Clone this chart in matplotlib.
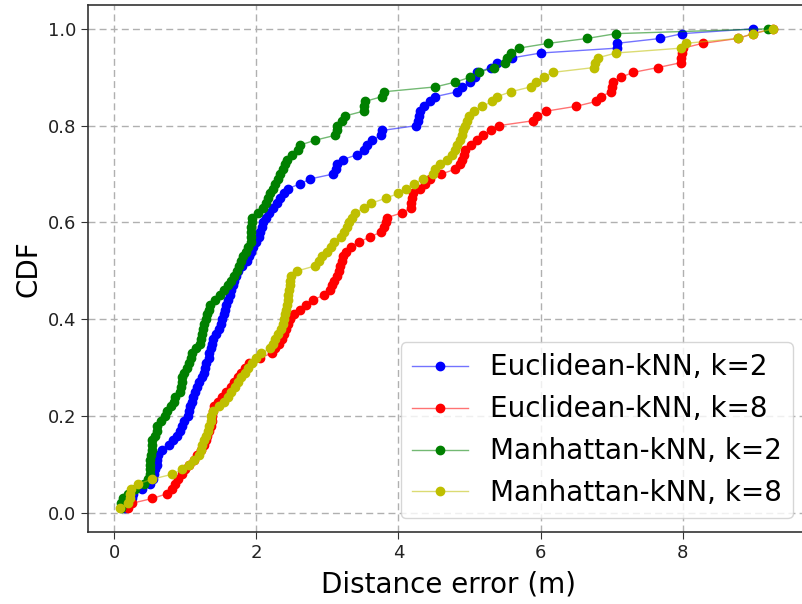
import numpy as np
import matplotlib
matplotlib.use('Agg')
import matplotlib.pyplot as plt

# sorted distance errors (m), one value per test point, 100 per method
euclid_k2 = [0.15, 0.20, 0.25, 0.27, 0.40, 0.51, 0.55, 0.56, 0.58, 0.60,
             0.61, 0.62, 0.68, 0.78, 0.83, 0.88, 0.93, 0.96, 0.99, 1.04,
             1.05, 1.07, 1.09, 1.11, 1.14, 1.17, 1.20, 1.24, 1.26, 1.28,
             1.30, 1.33, 1.34, 1.36, 1.38, 1.39, 1.43, 1.47, 1.50, 1.52,
             1.54, 1.56, 1.58, 1.60, 1.63, 1.65, 1.67, 1.69, 1.72, 1.75,
             1.80, 1.87, 1.90, 1.93, 1.96, 2.00, 2.04, 2.06, 2.08, 2.10,
             2.14, 2.18, 2.24, 2.29, 2.34, 2.39, 2.45, 2.62, 2.76, 3.08,
             3.12, 3.14, 3.22, 3.42, 3.51, 3.56, 3.63, 3.75, 3.77, 4.25,
             4.28, 4.29, 4.31, 4.36, 4.45, 4.52, 4.83, 4.90, 5.01, 5.08,
             5.11, 5.30, 5.39, 5.60, 6.00, 7.07, 7.07, 7.68, 7.99, 8.99]

euclid_k8 = [0.20, 0.25, 0.54, 0.75, 0.82, 0.86, 0.90, 0.95, 1.00, 1.05,
             1.12, 1.17, 1.22, 1.26, 1.29, 1.31, 1.34, 1.37, 1.38, 1.38,
             1.39, 1.40, 1.46, 1.52, 1.58, 1.65, 1.69, 1.74, 1.79, 1.84,
             1.90, 2.05, 2.22, 2.27, 2.32, 2.36, 2.39, 2.42, 2.44, 2.47,
             2.53, 2.62, 2.70, 2.80, 2.95, 3.04, 3.07, 3.10, 3.14, 3.16,
             3.18, 3.20, 3.22, 3.26, 3.33, 3.45, 3.60, 3.75, 3.80, 3.82,
             3.84, 4.05, 4.17, 4.18, 4.19, 4.20, 4.30, 4.38, 4.45, 4.60,
             4.80, 4.86, 4.90, 4.92, 4.94, 5.02, 5.10, 5.19, 5.30, 5.41,
             5.89, 5.95, 6.08, 6.50, 6.78, 6.85, 6.99, 7.01, 7.02, 7.13,
             7.30, 7.65, 7.97, 7.98, 7.99, 8.00, 8.28, 8.77, 8.99, 9.27]

manhat_k2 = [0.10, 0.10, 0.12, 0.20, 0.30, 0.42, 0.48, 0.50, 0.50, 0.51,
             0.51, 0.52, 0.53, 0.54, 0.54, 0.57, 0.60, 0.60, 0.66, 0.72,
             0.75, 0.80, 0.84, 0.86, 0.93, 0.94, 0.95, 0.96, 0.99, 1.02,
             1.05, 1.08, 1.10, 1.15, 1.21, 1.23, 1.24, 1.25, 1.26, 1.29,
             1.31, 1.33, 1.35, 1.42, 1.49, 1.55, 1.60, 1.65, 1.69, 1.73,
             1.76, 1.79, 1.82, 1.86, 1.89, 1.92, 1.92, 1.93, 1.93, 1.94,
             1.94, 2.02, 2.10, 2.14, 2.17, 2.20, 2.24, 2.27, 2.31, 2.34,
             2.37, 2.40, 2.43, 2.50, 2.59, 2.62, 2.83, 3.11, 3.13, 3.14,
             3.20, 3.25, 3.51, 3.52, 3.53, 3.77, 3.80, 4.52, 4.80, 5.01,
             5.13, 5.34, 5.50, 5.52, 5.58, 5.69, 6.11, 6.65, 7.06, 9.20]

manhat_k8 = [0.08, 0.20, 0.23, 0.23, 0.24, 0.34, 0.54, 0.82, 0.96, 1.05,
             1.13, 1.19, 1.22, 1.24, 1.27, 1.30, 1.32, 1.34, 1.36, 1.37,
             1.39, 1.47, 1.55, 1.61, 1.65, 1.70, 1.75, 1.79, 1.84, 1.89,
             1.94, 1.99, 2.07, 2.20, 2.24, 2.27, 2.31, 2.35, 2.37, 2.39,
             2.40, 2.42, 2.43, 2.44, 2.45, 2.46, 2.47, 2.48, 2.49, 2.58,
             2.82, 2.88, 2.92, 2.99, 3.05, 3.09, 3.19, 3.23, 3.27, 3.30,
             3.35, 3.39, 3.52, 3.62, 3.82, 4.00, 4.10, 4.22, 4.35, 4.48,
             4.51, 4.58, 4.68, 4.75, 4.80, 4.83, 4.86, 4.89, 4.91, 4.94,
             4.96, 4.99, 5.06, 5.18, 5.32, 5.39, 5.58, 5.86, 5.93, 6.04,
             6.17, 6.75, 6.77, 6.80, 7.06, 7.97, 8.04, 8.77, 8.99, 9.27]

labels = ['Euclidean-kNN, k=2', 'Euclidean-kNN, k=8',
          'Manhattan-kNN, k=2', 'Manhattan-kNN, k=8']
colors = ['b', 'r', 'g', 'y']


def plot_cdf(ax, errors, color, label):
    """Empirical CDF: sorted errors against rank / n"""
    x = np.sort(np.asarray(errors))
    y = np.arange(1, len(x) + 1) / len(x)
    line_col = matplotlib.colors.to_rgba(color, 0.55)
    ax.plot(x, y, '-o', color=line_col, lw=1.0, ms=6,
            mfc=color, mec=color, label=label)


fig = plt.figure(figsize=(8.02, 6.04), dpi=100)
# the original figure is cropped on the right, so the axes run past the edge
ax = fig.add_axes([0.1097, 0.119, 0.92, 0.873])

for errs, c, lab in zip([euclid_k2, euclid_k8, manhat_k2, manhat_k8], colors, labels):
    plot_cdf(ax, errs, c, lab)

ax.set_xlim(-0.366, 10.01)
ax.grid(True, linestyle=(0, (5, 3)), color='#b0b0b0', linewidth=1.0)
ax.set_xticks([0, 2, 4, 6, 8])
ax.set_yticks([0.0, 0.2, 0.4, 0.6, 0.8, 1.0])
ax.tick_params(labelsize=13, length=5, color='#333333', labelcolor='#222222')
for sp in ax.spines.values():
    sp.set_color('#333333')
    sp.set_linewidth(1.2)
ax.spines['right'].set_visible(False)

ax.set_xlabel('Distance error (m)', fontsize=20)
ax.xaxis.set_label_coords(0.488, -0.072)
ax.set_ylabel('CDF', fontsize=20)
ax.legend(loc='lower right', bbox_to_anchor=(0.974, 0.0), fontsize=20)

plt.savefig('out.png', dpi=100)
